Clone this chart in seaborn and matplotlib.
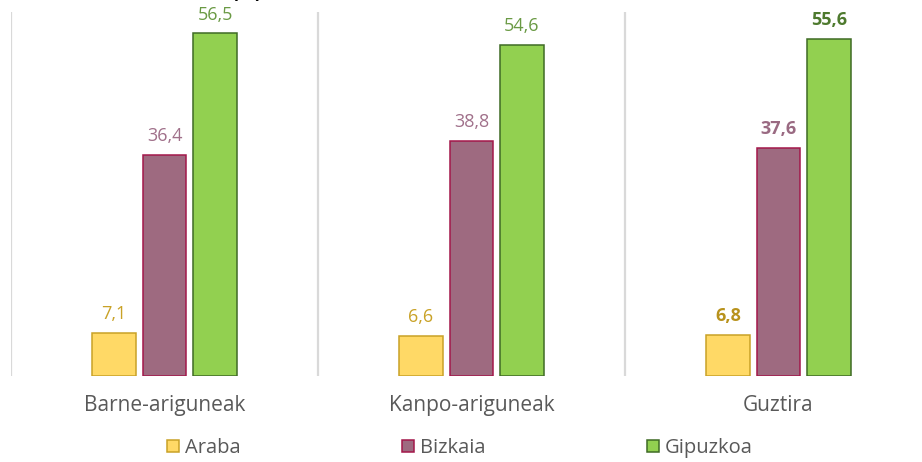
import pandas as pd
import matplotlib.pyplot as plt
import seaborn as sns

# Data
categories = ['Barne-ariguneak', 'Kanpo-ariguneak', 'Guztira']
regions = ['Araba', 'Bizkaia', 'Gipuzkoa']
araba = [7.1, 6.6, 6.8]
bizkaia = [36.4, 38.8, 37.6]
gipuzkoa = [56.5, 54.6, 55.6]

fill_colors = {'Araba': '#FFD966', 'Bizkaia': '#9E6A80', 'Gipuzkoa': '#92D050'}
edge_colors = {'Araba': '#C9A227', 'Bizkaia': '#A3174A', 'Gipuzkoa': '#3F6B25'}
label_colors = {'Araba': '#C9A227', 'Bizkaia': '#A0708A', 'Gipuzkoa': '#6A9A44'}
bold_colors = {'Araba': '#B8921C', 'Bizkaia': '#9A6A82', 'Gipuzkoa': '#4E7A2E'}

rows = []
for reg, vals in zip(regions, [araba, bizkaia, gipuzkoa]):
    for cat, v in zip(categories, vals):
        rows.append({'cat': cat, 'reg': reg, 'val': v})
df = pd.DataFrame(rows)

sns.set_theme(style='white')
plt.rcParams['font.family'] = ['Open Sans', 'DejaVu Sans']

fig = plt.figure(figsize=(9.22, 4.62), dpi=100)
ax = fig.add_axes([11 / 922, 86 / 462, 921 / 922, 364 / 462])

sns.barplot(data=df, x='cat', y='val', hue='reg', order=categories, hue_order=regions,
            palette=fill_colors, width=0.494, gap=0.13, saturation=1, legend=False, ax=ax)

for reg, cont in zip(regions, ax.containers):
    for bar in cont:
        bar.set_edgecolor(edge_colors[reg])
        bar.set_linewidth(1.1)
    labels = [f'{v:.1f}'.replace('.', ',') for v in cont.datavalues]
    texts = ax.bar_label(cont, labels=labels, padding=7, fontsize=13, color=label_colors[reg])
    # last group is shown in bold
    texts[-1].set_fontweight('bold')
    texts[-1].set_color(bold_colors[reg])

# category separators
for x in [-0.5, 0.5, 1.5, 2.5]:
    ax.axvline(x, color='#D9D9D9', linewidth=1.6, zorder=0)

ax.set_xlim(-0.5, 2.5)
ax.set_ylim(0, 60)
ax.set_xlabel('')
ax.set_ylabel('')
ax.set_yticks([])
ax.tick_params(axis='x', length=0, pad=14, labelsize=15, labelcolor='#595959')
sns.despine(ax=ax, left=True, bottom=True)

# legend
handles = [plt.Rectangle((0, 0), 1, 1, facecolor=fill_colors[r], edgecolor=edge_colors[r], linewidth=1.1)
           for r in regions]
fig.legend(handles, regions, loc='center', bbox_to_anchor=(460 / 922, 1 - 448 / 462), ncol=3,
           frameon=False, fontsize=14.5, labelcolor='#595959', handlelength=0.6, handleheight=0.6,
           handletextpad=0.3, columnspacing=8.0)

# partially cut title
fig.text(247 / 922, 1 - 3 / 462, '(%)', ha='center', va='bottom', fontsize=14, fontweight='bold', color='black')

fig.savefig('out.png', dpi=100)
